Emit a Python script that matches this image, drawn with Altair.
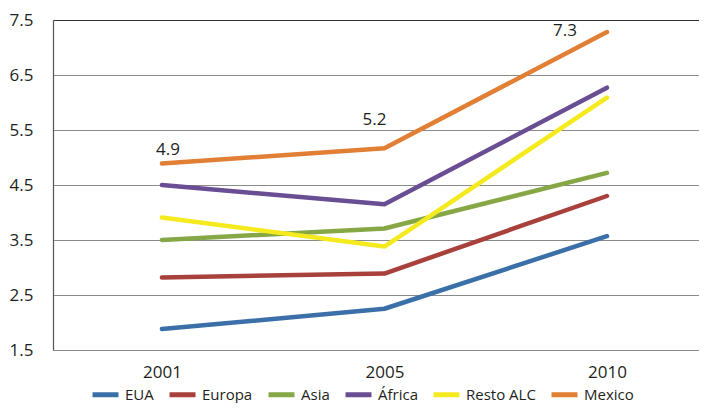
import altair as alt
import pandas as pd

years = ["2001", "2005", "2010"]
series = ["EUA", "Europa", "Asia", "África", "Resto ALC", "Mexico"]
values = {
    "EUA": [1.88, 2.25, 3.57],
    "Europa": [2.82, 2.89, 4.30],
    "Asia": [3.50, 3.71, 4.72],
    "África": [4.50, 4.15, 6.27],
    "Resto ALC": [3.91, 3.38, 6.09],
    "Mexico": [4.89, 5.17, 7.28],
}
colors = ["#3b6fa8", "#a8403c", "#86a745", "#6a4e94", "#f4ea1e", "#e17f35"]
mexico_labels = ["4.9", "5.2", "7.3"]
y_ticks = [1.5, 2.5, 3.5, 4.5, 5.5, 6.5, 7.5]

rows = []
for s in series:
    for yr, v in zip(years, values[s]):
        rows.append({"year": yr, "serie": s, "value": v})
df = pd.DataFrame(rows)

lab = pd.DataFrame({"year": years, "value": values["Mexico"], "label": mexico_labels})

FONT = "Open Sans"

x_scale = alt.Scale(type="point", padding=0.4517, align=0.542)
y_scale = alt.Scale(domain=[1.5, 7.5], nice=False, zero=False)

x_enc = alt.X("year:O", sort=years, scale=x_scale,
              axis=alt.Axis(title=None, labelAngle=0, domain=False, ticks=False, grid=False,
                            labelFontSize=17, labelPadding=14, labelColor="#231f20",
                            labelFont=FONT))
y_enc = alt.Y("value:Q", scale=y_scale,
              axis=alt.Axis(title=None, values=y_ticks, format=".1f", ticks=False,
                            domainColor="#555555", domainWidth=1.2,
                            gridColor={"condition": {"test": "datum.value == 7.5", "value": "#333333"}, "value": "#8a8a8a"},
                            gridWidth=1.2,
                            labelFontSize=17, labelPadding=20, labelColor="#231f20",
                            labelFont=FONT))

lines = alt.Chart(df).mark_line(strokeWidth=4.5, strokeCap="round", strokeJoin="round").encode(
    x=x_enc,
    y=y_enc,
    color=alt.Color("serie:N", sort=series,
                    scale=alt.Scale(domain=series, range=colors),
                    legend=alt.Legend(title=None, orient="none", direction="horizontal",
                                      legendX=37, legendY=359,
                                      symbolType="stroke", symbolStrokeWidth=5,
                                      symbolSize=676, labelFontSize=15,
                                      labelFont=FONT, labelColor="#231f20",
                                      columnPadding=5, labelOffset=4, padding=0)),
    order=alt.Order("year:O"),
)

offsets = [(6, -14), (-10, -28), (-42, -1)]
texts = []
for yr, (dx, dy) in zip(years, offsets):
    texts.append(
        alt.Chart(lab).transform_filter(alt.datum.year == yr)
        .mark_text(dx=dx, dy=dy, fontSize=17, font=FONT, color="#231f20")
        .encode(x=alt.X("year:O", sort=years), y="value:Q", text="label:N")
    )

chart = alt.layer(lines, *texts).properties(
    width=646, height=330,
    background="white",
    autosize=alt.AutoSizeParams(type="none"),
    padding={"left": 45, "top": 12, "right": 0, "bottom": 53},
).configure_view(stroke=None)

chart.save("out.html", embed_options={"renderer": "svg", "actions": False})
